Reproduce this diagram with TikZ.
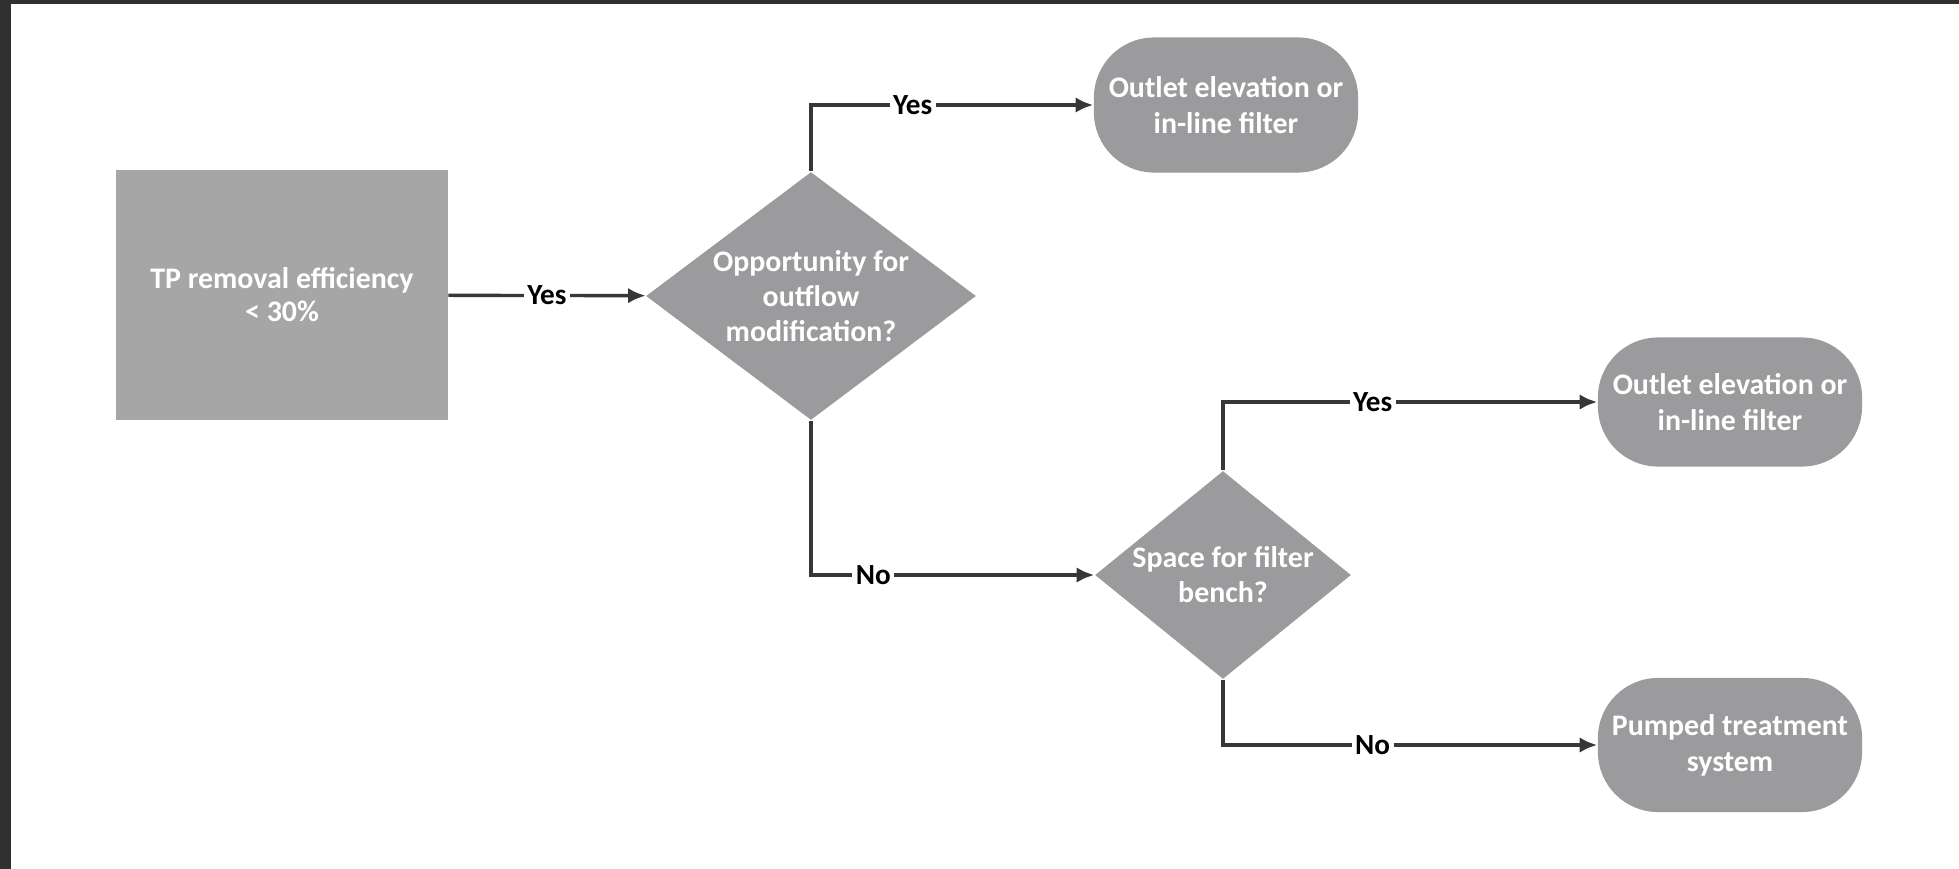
\documentclass[tikz,border=0pt]{standalone}
\usepackage{fontspec}
\setmainfont{Carlito}
\usepackage{tikz}
\usetikzlibrary{shapes.geometric,arrows.meta,positioning,calc}
\definecolor{framegray}{RGB}{48,48,48}
\definecolor{boxgray}{RGB}{166,166,166}
\definecolor{nodegray}{RGB}{155,155,158}
\definecolor{linegray}{RGB}{55,55,55}

\begin{document}
\begin{tikzpicture}[x=0.01cm, y=-0.01cm,
    block/.style={rectangle, fill=boxgray, text=white, align=center, inner sep=0pt,
        font=\fontsize{8.5}{9.4}\selectfont\bfseries},
    decision/.style={diamond, fill=nodegray, text=white, align=center, inner sep=-0.3cm, aspect=1.3,
        font=\fontsize{8.5}{10}\selectfont\bfseries},
    terminal/.style={rectangle, rounded corners=0.6cm, fill=nodegray, text=white, align=center,
        inner sep=0pt, minimum width=2.64cm, font=\fontsize{8.5}{10.2}\selectfont\bfseries},
    lbl/.style={fill=white, inner sep=1pt, text=black, font=\fontsize{8.3}{9}\selectfont\bfseries},
    arrow/.style={line width=0.95pt, draw=linegray, -{Latex[length=5pt,width=4.4pt]}}]

    % frame
    \fill[framegray] (0,0) rectangle (1959,869);
    \fill[white] (11,4) rectangle (1959,869);

    \node[block, minimum width=3.31cm, minimum height=2.49cm] (tp) at (282,295)
        {TP removal efficiency\\< 30\%};
    \node[decision, minimum width=3.30cm, minimum height=2.48cm] (opp) at (811,296)
        {Opportunity for\\outflow\\modification?};
    \node[terminal, minimum height=1.35cm] (outa) at (1226,105)
        {Outlet elevation or\\in-line filter};
    \node[decision, minimum width=2.56cm, minimum height=2.08cm] (space) at (1223,575)
        {Space for filter\\bench?};
    \node[terminal, minimum height=1.29cm] (outb) at (1730,402)
        {Outlet elevation or\\in-line filter};
    \node[terminal, minimum height=1.34cm] (pump) at (1730,745)
        {Pumped treatment\\system};

    \draw[arrow] (tp) -- node[lbl] {Yes} (opp);
    \draw[arrow] (opp.north) |- node[lbl, pos=0.68] {Yes} (outa.west);
    \draw[arrow] (opp.south) |- node[lbl, pos=0.61] {No} (space.west);
    \draw[arrow] (space.north) |- node[lbl, pos=0.70] {Yes} (outb.west);
    \draw[arrow] (space.south) |- node[lbl, pos=0.70] {No} (pump.west);
\end{tikzpicture}
\end{document}
